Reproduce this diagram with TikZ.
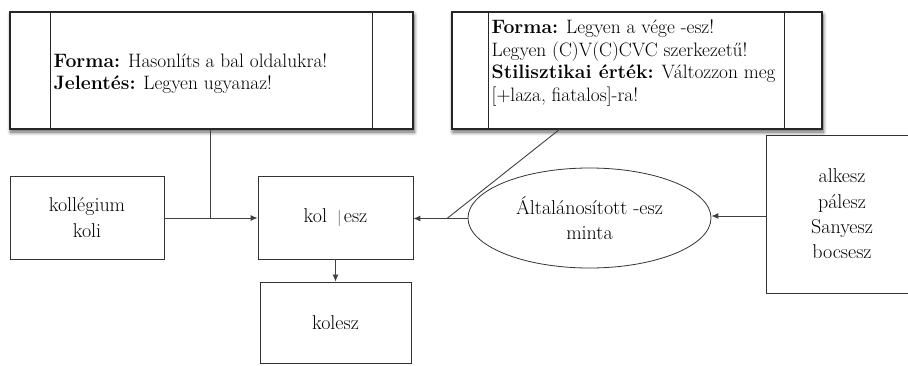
\documentclass[tikz,border=0pt]{standalone}
\usetikzlibrary{arrows.meta,calc,shapes.geometric,shadows.blur}
\newcommand\cardfont{\fontsize{19.4pt}{22.6pt}\selectfont}
\newcommand\wordfont{\fontsize{20pt}{25.3pt}\selectfont}
\begin{document}
\begin{tikzpicture}[x=1pt,y=-1pt,
  box/.style={draw=black!80, line width=0.8pt, rectangle, inner sep=0pt, font=\wordfont, align=center},
  card/.style={draw=black!85, line width=1.1pt, rectangle, inner sep=0pt, fill=white,
    blur shadow={shadow xshift=1pt, shadow yshift=-3pt, shadow blur steps=8,
      shadow blur radius=4pt, shadow opacity=65}},
  rule/.style={draw=black!85, line width=0.8pt},
  cardtext/.style={font=\cardfont, align=left, inner sep=0pt, anchor=west},
  link/.style={draw=black!75, line width=0.9pt},
  arrow/.style={link, -{Latex[length=7pt,width=6pt]}}]
\useasboundingbox (0,0) rectangle (908,365);
\clip (0,0) rectangle (908,365);

% condition cards
\node[card, minimum width=403pt, minimum height=117pt] (lt) at (211.5,70.5) {};
\draw[rule] ($(lt.north west)+(41,0)$) -- ($(lt.south west)+(41,0)$);
\draw[rule] ($(lt.north east)+(-41,0)$) -- ($(lt.south east)+(-41,0)$);
\node[cardtext] (ltt) at ($(lt.west)+(44,3)$)
  {\textbf{Forma:} Hasonlíts a bal oldalukra!\\\textbf{Jelentés:} Legyen ugyanaz!};

\node[card, minimum width=370pt, minimum height=117pt] (rt) at (637,70.5) {};
\draw[rule] ($(rt.north west)+(37,0)$) -- ($(rt.south west)+(37,0)$);
\draw[rule] ($(rt.north east)+(-38,0)$) -- ($(rt.south east)+(-38,0)$);
\node[cardtext] (rtt) at ($(rt.west)+(40,-7.5)$)
  {\textbf{Forma:} Legyen a vége -esz!\\Legyen (C)V(C)CVC szerkezetű!\\%
   \textbf{Stilisztikai érték:} Változzon meg\\{[}+laza, fiatalos{]}-ra!};

% word boxes
\node[box, minimum width=154pt, minimum height=83pt] (src) at (87,217.5) {kollégium\\koli};
\node[box, minimum width=155pt, minimum height=83pt] (mid) at (335.5,217.5)
  {kol\hspace{0.5em}{\color{black!70}\fontsize{16pt}{16pt}\selectfont|}\hspace{0.12em}esz};
\node[box, minimum width=151pt, minimum height=81pt] (res) at (335.5,322.5) {kolesz};
\node[box, ellipse, minimum width=243pt, minimum height=100pt] (pat) at (589.5,218)
  {Általánosított -esz\\minta};
\node[box, minimum width=152pt, minimum height=158pt] (ex) at (842,214)
  {alkesz\\pálesz\\Sanyesz\\bocsesz};

% connectors
\coordinate (j1) at (210,218);
\coordinate (j2) at (447,218.5);
\coordinate (c2) at (560,129);
\draw[link] (j1 |- lt.south) -- (j1);
\draw[arrow] (src.east |- j1) -- (mid.west |- j1);
\draw[arrow] (mid.south) -- (res.north);
\draw[arrow] (pat.west |- j2) -- (mid.east |- j2);
\draw[link] (c2) -- (j2);
\draw[arrow] (ex.west |- 0,216) -- (pat.east |- 0,216);
\end{tikzpicture}
\end{document}
